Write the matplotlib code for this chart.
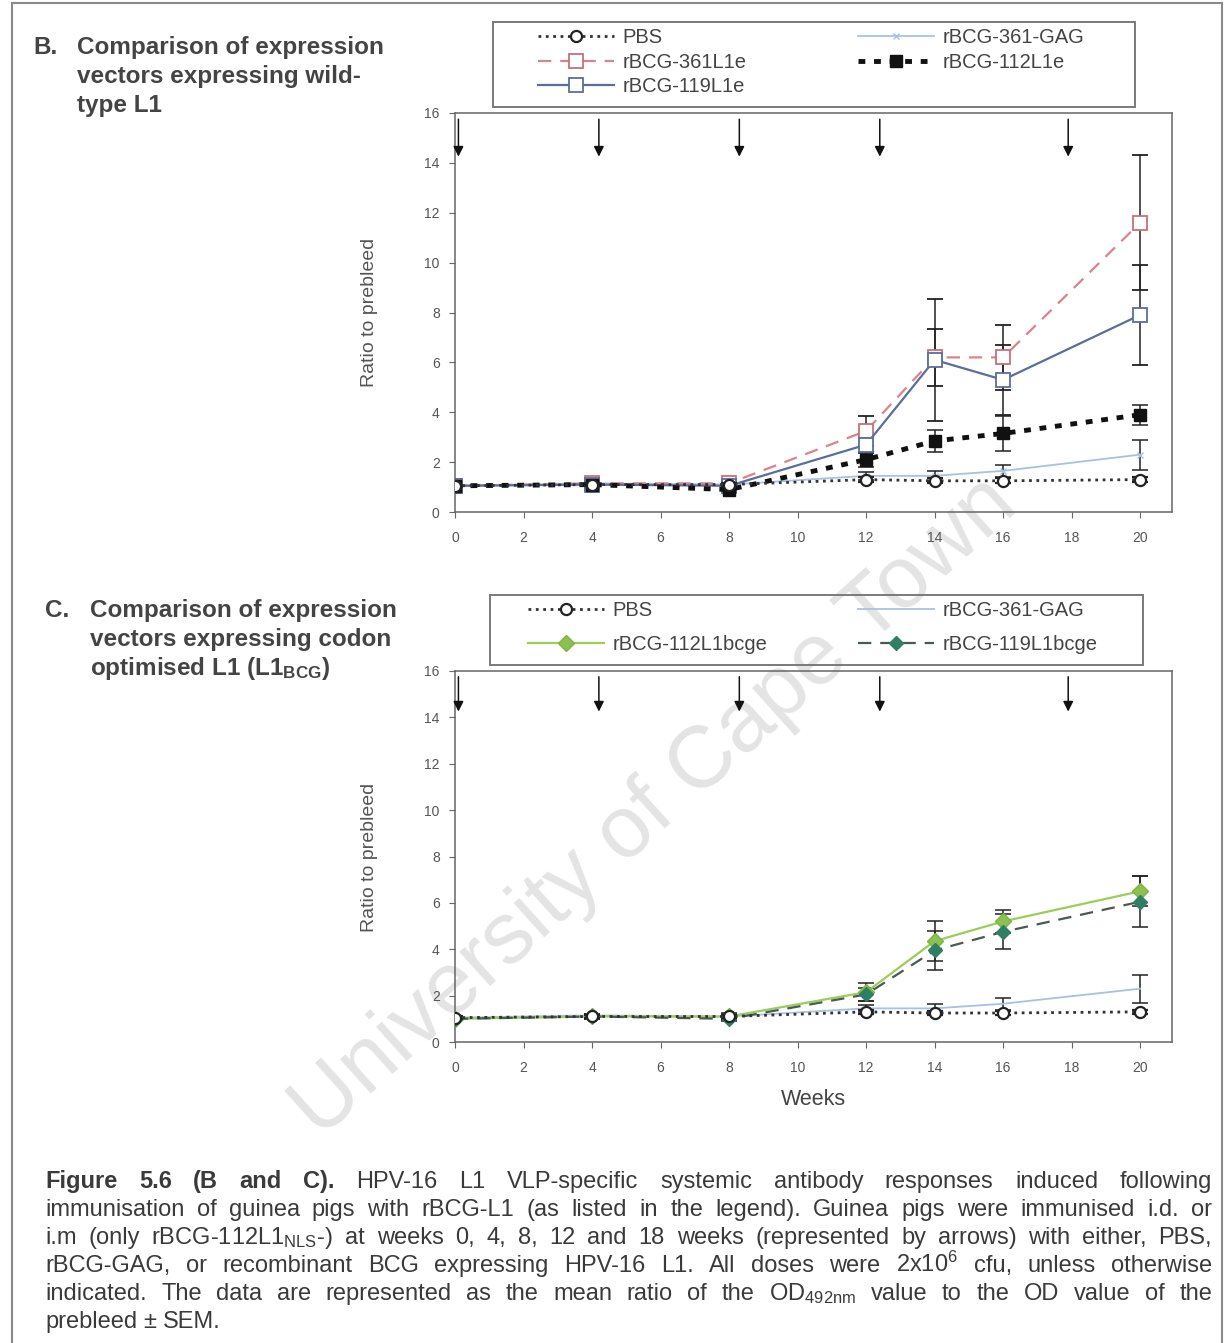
import matplotlib
matplotlib.use("Agg")
import matplotlib.pyplot as plt
from matplotlib import font_manager
from matplotlib.lines import Line2D
from matplotlib.patches import Rectangle

W, H = 1229, 1343

# sampling weeks and immunisation arrows (as drawn)
weeks = [0, 4, 8, 12, 14, 16, 20]
dose_weeks = [0.1, 4.2, 8.3, 12.4, 17.9]

# shared control groups
pbs = [1.05, 1.1, 1.1, 1.3, 1.25, 1.25, 1.3]
pbs_err = [0.05, 0.05, 0.05, 0.1, 0.1, 0.1, 0.1]
gag = [1.05, 1.15, 1.1, 1.45, 1.45, 1.65, 2.3]
gag_err = [0.05, 0.05, 0.1, 0.15, 0.2, 0.25, 0.6]

# panel B - wild-type L1
r361 = [1.05, 1.15, 1.15, 3.25, 6.2, 6.2, 11.6]
r361_err = [0.05, 0.1, 0.1, 0.6, 1.15, 1.3, 2.7]
r119 = [1.05, 1.1, 1.05, 2.7, 6.1, 5.3, 7.9]
r119_err = [0.05, 0.1, 0.15, 0.35, 2.45, 1.4, 2.0]
r112 = [1.05, 1.1, 0.9, 2.1, 2.85, 3.15, 3.9]
r112_err = [0.05, 0.1, 0.1, 0.3, 0.45, 0.7, 0.4]

# panel C - codon optimised L1
g112 = [1.0, 1.1, 1.1, 2.15, 4.35, 5.2, 6.5]
g112_err = [0.05, 0.1, 0.15, 0.4, 0.85, 0.5, 0.65]
g119 = [1.0, 1.1, 1.0, 2.05, 3.95, 4.75, 6.05]
g119_err = [0.05, 0.1, 0.1, 0.3, 0.85, 0.75, 1.1]

names = {f.name for f in font_manager.fontManager.ttflist}
narrow = 'Liberation Sans Narrow' if 'Liberation Sans Narrow' in names else 'Liberation Sans'

plt.rcParams['font.family'] = ['Liberation Sans', 'DejaVu Sans']
plt.rcParams['mathtext.fontset'] = 'custom'
plt.rcParams['mathtext.rm'] = narrow
plt.rcParams['mathtext.it'] = narrow + ':italic'
plt.rcParams['mathtext.bf'] = 'Liberation Sans:bold'

fig = plt.figure(figsize=(W / 100, H / 100), dpi=100)


def fx(x):
    return x / W


def fy(y):
    return 1 - y / H


def box(l, t, r, b):
    return [fx(l), fy(b), (r - l) / W, (b - t) / H]


# page border
for xs, ys in [((12, 12), (3, 1343)), ((12, 1222), (3, 3)), ((1222, 1222), (3, 1343))]:
    fig.add_artist(Line2D([fx(v) for v in xs], [fy(v) for v in ys], color='#8a8a8a', lw=1.5))

# watermark
fig.text(fx(655), fy(808), 'University of Cape Town', fontsize=63, color='#e4e4e4',
         rotation=42, ha='center', va='center', rotation_mode='anchor', zorder=-5)

eb = dict(ecolor='#222', elinewidth=1.1, capsize=6, capthick=1.1)


def setup(ax, ycenter):
    ax.set_facecolor('none')
    ax.set_xlim(0, 20.93)
    ax.set_ylim(0, 16)
    ax.set_xticks(range(0, 21, 2))
    ax.set_yticks(range(0, 17, 2))
    ax.tick_params(labelsize=10, labelcolor='#555', color='#666', length=4, width=0.8)
    ax.tick_params(axis='x', pad=10)
    ax.tick_params(axis='y', pad=7)
    for s in ax.spines.values():
        s.set_color('#666')
        s.set_linewidth(1.1)
    for x in dose_weeks:
        ax.annotate('', xy=(x, 14.25), xytext=(x, 15.75),
                    arrowprops=dict(arrowstyle='-|>', color='#111', lw=1.1,
                                    mutation_scale=15, shrinkA=0, shrinkB=0))
    fig.text(fx(369), fy(ycenter), 'Ratio to prebleed', rotation=90, fontsize=14,
             color='#555', ha='center', va='center')


def controls(ax, gag_marker):
    h_gag = ax.errorbar(weeks, gag, yerr=gag_err, color='#a9c1e0', lw=1.3,
                        marker=gag_marker, ms=4, mec='#a9c1e0', **eb)
    h_pbs = ax.errorbar(weeks, pbs, yerr=pbs_err, color='#333', ls=':', lw=2,
                        marker='o', ms=8, mfc='white', mec='#222', mew=1.6, zorder=5, **eb)
    return h_pbs, h_gag


def legend_col(handles, labels, x, y, spacing):
    fig.legend(handles, labels, loc='upper left', bbox_to_anchor=(fx(x), fy(y)),
               frameon=False, fontsize=14.5, handlelength=3.75, handletextpad=0.45,
               borderaxespad=0, borderpad=0, labelspacing=spacing, labelcolor='#444')


def frame(l, t, r, b):
    fig.add_artist(Rectangle((fx(l), fy(b)), (r - l) / W, (b - t) / H, fill=False,
                             edgecolor='#7a7a7a', lw=1.4, transform=fig.transFigure))


# ---- panel B
axB = fig.add_axes(box(455, 113, 1172, 512))
setup(axB, 312)
hB_pbs, hB_gag = controls(axB, 'x')
hB_361 = axB.errorbar(weeks, r361, yerr=r361_err, color='#d9848a', ls=(0, (6, 4)), lw=1.6,
                      marker='s', ms=10, mfc='white', mec='#c97078', mew=1.3, **eb)
hB_119 = axB.errorbar(weeks, r119, yerr=r119_err, color='#5a6e9c', lw=1.6,
                      marker='s', ms=10, mfc='white', mec='#5a6e9c', mew=1.3, **eb)
hB_112 = axB.errorbar(weeks, r112, yerr=r112_err, color='#111', ls=(0, (1.4, 1.8)), lw=3.5,
                      marker='s', ms=8, mfc='#111', mec='#111', **eb)
frame(493, 22, 1135, 107)
legend_col([hB_pbs[0], hB_361[0], hB_119[0]], ['PBS', 'rBCG-361L1e', 'rBCG-119L1e'],
           538, 28, 0.28)
legend_col([hB_gag[0], hB_112[0]], ['rBCG-361-GAG', 'rBCG-112L1e'], 858, 28, 0.28)

# ---- panel C
axC = fig.add_axes(box(455, 671, 1172, 1042))
setup(axC, 857)
hC_pbs, hC_gag = controls(axC, None)
hC_112 = axC.errorbar(weeks, g112, yerr=g112_err, color='#9ccc5a', lw=1.6,
                      marker='D', ms=8, mfc='#8cc050', mec='#7fb445', zorder=4, **eb)
hC_119 = axC.errorbar(weeks, g119, yerr=g119_err, color='#4a5a50', ls=(0, (6, 4)), lw=1.6,
                      marker='D', ms=7, mfc='#2f7f64', mec='#2f7f64', zorder=4, **eb)
axC.set_xlabel('Weeks', fontsize=15.5, color='#444', labelpad=10)
frame(490, 595, 1143, 665)
legend_col([hC_pbs[0], hC_112[0]], ['PBS', 'rBCG-112L1bcge'], 528, 601, 0.75)
legend_col([hC_gag[0], hC_119[0]], ['rBCG-361-GAG', 'rBCG-119L1bcge'], 858, 601, 0.75)

# ---- section titles
title_kw = dict(fontsize=17.5, weight='bold', color='#444', va='baseline')
fig.text(fx(33), fy(54), 'B.', **title_kw)
for i, line in enumerate(['Comparison of expression', 'vectors expressing wild-', 'type L1']):
    fig.text(fx(77), fy(54 + 29 * i), line, **title_kw)
fig.text(fx(45), fy(617), 'C.', **title_kw)
for i, line in enumerate(['Comparison of expression', 'vectors expressing codon',
                          r'optimised L1 (L1$_{\mathbf{BCG}}$)']):
    fig.text(fx(90), fy(617 + 29 * i), line, **title_kw)

# ---- caption (justified)
caption = [
    [('Figure', 1), ('5.6', 1), ('(B', 1), ('and', 1), ('C).', 1), ('HPV-16', 0), ('L1', 0),
     ('VLP-specific', 0), ('systemic', 0), ('antibody', 0), ('responses', 0), ('induced', 0),
     ('following', 0)],
    [(w, 0) for w in 'immunisation of guinea pigs with rBCG-L1 (as listed in the legend). '
                     'Guinea pigs were immunised i.d. or'.split()],
    [(w, 0) for w in ['i.m', '(only', r'rBCG-112L1$_{\mathrm{NLS}}$-)', 'at', 'weeks', '0,',
                      '4,', '8,', '12', 'and', '18', 'weeks', '(represented', 'by', 'arrows)',
                      'with', 'either,', 'PBS,']],
    [(w, 0) for w in ['rBCG-GAG,', 'or', 'recombinant', 'BCG', 'expressing', 'HPV-16', 'L1.',
                      'All', 'doses', 'were', r'2x10$^{6}$', 'cfu,', 'unless', 'otherwise']],
    [(w, 0) for w in ['indicated.', 'The', 'data', 'are', 'represented', 'as', 'the', 'mean',
                      'ratio', 'of', 'the', r'OD$_{\mathrm{492nm}}$', 'value', 'to', 'the',
                      'OD', 'value', 'of', 'the']],
    [(w, 0) for w in ['prebleed', '±', 'SEM.']],
]
cap_fs = 17
renderer = fig.canvas.get_renderer()
for i, words in enumerate(caption):
    y = 1188 + 28 * i
    texts = [fig.text(0, fy(y), w, fontsize=cap_fs, family=[narrow, 'DejaVu Sans'],
                      weight='bold' if b else 'normal', color='#3a3a3a', va='baseline')
             for w, b in words]
    widths = [t.get_window_extent(renderer).width for t in texts]
    if i < len(caption) - 1:
        gap = (1212 - 45 - sum(widths)) / (len(texts) - 1)
    else:
        gap = cap_fs * 100 / 72 * 0.28
    x = 45
    for t, wd in zip(texts, widths):
        t.set_x(fx(x))
        x += wd + gap

fig.savefig('out.png', dpi=100)
